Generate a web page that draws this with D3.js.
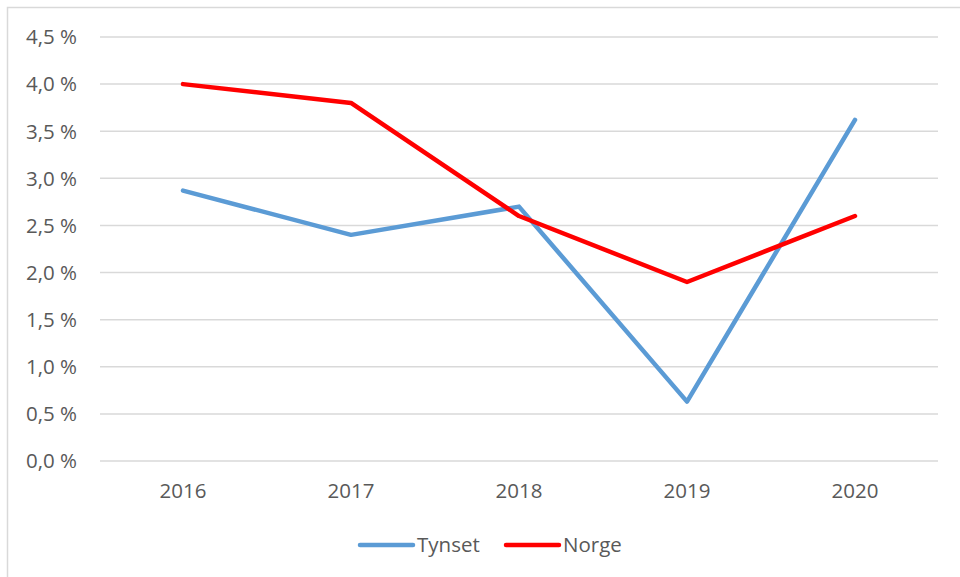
<!DOCTYPE html>
<html><head><meta charset="utf-8">
<script src="https://cdn.jsdelivr.net/npm/d3@7"></script>
<style>body{margin:0;background:#fff}svg{display:block;font-family:"Open Sans","Liberation Sans",sans-serif}</style>
</head><body><svg id="c" width="960" height="577"></svg>
<script>
const years = ["2016","2017","2018","2019","2020"];
const tynset = [2.87, 2.40, 2.70, 0.63, 3.62];
const norge = [4.00, 3.80, 2.60, 1.90, 2.60];
const yTicks = [0, 0.5, 1, 1.5, 2, 2.5, 3, 3.5, 4, 4.5];
const seriesNames = ["Tynset", "Norge"];
const seriesColors = ["#5B9BD5", "#FF0000"];

const svg = d3.select("#c");
svg.append("rect").attr("x",7.5).attr("y",7.5).attr("width",970).attr("height",600)
  .attr("fill","#fff").attr("stroke","#d9d9d9").attr("stroke-width",1.5);

const x = d3.scalePoint().domain(years).range([183, 855]);
const y = d3.scaleLinear().domain([0, 4.5]).range([461, 37]);
const fmt = v => d3.format(".1f")(v).replace(".", ",") + " %";
const fs = 20.5;

const g = svg.append("g");
yTicks.forEach(t => {
  g.append("line").attr("x1",100).attr("x2",938).attr("y1",y(t)).attr("y2",y(t))
    .attr("stroke","#d9d9d9").attr("stroke-width",1.5);
  g.append("text").attr("x",77).attr("y",y(t)).attr("dy","0.36em").attr("text-anchor","end")
    .attr("fill","#595959").attr("font-size",fs).text(fmt(t));
});
years.forEach(yr => {
  g.append("text").attr("x",x(yr)).attr("y",491).attr("dy","0.36em").attr("text-anchor","middle")
    .attr("fill","#595959").attr("font-size",fs).text(yr);
});

const line = d3.line().x((d,i)=>x(years[i])).y(d=>y(d));
[tynset, norge].forEach((s,i) => {
  g.append("path").datum(s).attr("d", line).attr("fill","none")
    .attr("stroke", seriesColors[i]).attr("stroke-width",4.5)
    .attr("stroke-linejoin","round").attr("stroke-linecap","round");
});

const leg = [{x:360},{x:506}];
seriesNames.forEach((n,i) => {
  const lx = leg[i].x;
  g.append("line").attr("x1",lx).attr("x2",lx+53).attr("y1",545).attr("y2",545)
    .attr("stroke",seriesColors[i]).attr("stroke-width",4.5).attr("stroke-linecap","round");
  g.append("text").attr("x",lx+57).attr("y",545).attr("dy","0.36em")
    .attr("fill","#595959").attr("font-size",fs).text(n);
});
</script></body></html>
